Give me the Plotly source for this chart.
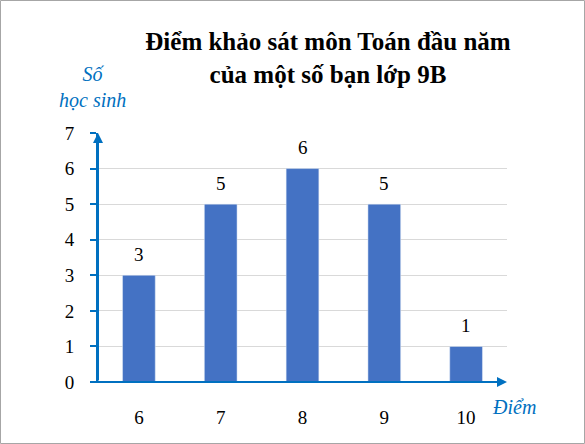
import plotly.graph_objects as go

diem = ['6', '7', '8', '9', '10']
so_hoc_sinh = [3, 5, 6, 5, 1]
y_ticks = [0, 1, 2, 3, 4, 5, 6, 7]

W, H = 585, 444
L, R, T, B = 98, 78, 133, 62
pw, ph = W - L - R, H - T - B

blue_bar = '#4472C4'
blue_axis = '#0070C0'
serif = 'Liberation Serif'

fig = go.Figure()

fig.add_trace(go.Bar(
    x=diem,
    y=so_hoc_sinh,
    marker=dict(color=blue_bar),
    hoverinfo='skip',
))

# nhãn số liệu trên cột (trục category: dùng chỉ số)
for i, v in enumerate(so_hoc_sinh):
    fig.add_annotation(x=i, y=v, text=str(v), showarrow=False, yshift=21,
                       yanchor='middle', font=dict(family=serif, size=19, color='black'))

# trục có mũi tên
fig.add_annotation(xref='x domain', yref='y domain', axref='x domain', ayref='y domain',
                   x=0, y=1, ax=0, ay=0, text='', showarrow=True,
                   arrowhead=2, arrowsize=1, arrowwidth=2, arrowcolor=blue_axis)
fig.add_annotation(xref='x domain', yref='y domain', axref='x domain', ayref='y domain',
                   x=1, y=0, ax=-7 / pw, ay=0, text='', showarrow=True,
                   arrowhead=2, arrowsize=1, arrowwidth=2, arrowcolor=blue_axis)

# nhãn trục
fig.add_annotation(xref='paper', yref='paper', x=-6 / pw, y=1 + 46 / ph,
                   text='<i>Số<br>học sinh</i>', showarrow=False,
                   font=dict(family=serif, size=20, color=blue_axis),
                   xanchor='center', yanchor='middle')
fig.add_annotation(xref='paper', yref='paper', x=1 + 7 / pw, y=-25 / ph,
                   text='<i>Điểm</i>', showarrow=False,
                   font=dict(family=serif, size=20, color=blue_axis),
                   xanchor='center', yanchor='middle')

# khung viền
fig.add_shape(type='rect', xref='paper', yref='paper',
              x0=-(L - 0.5) / pw, x1=1 + (R - 0.5) / pw,
              y0=-(B - 0.5) / ph, y1=1 + (T - 0.5) / ph,
              line=dict(color='#A6A6A6', width=1), layer='below')

fig.update_layout(
    width=W, height=H,
    margin=dict(l=L, r=R, t=T, b=B),
    paper_bgcolor='white', plot_bgcolor='white',
    showlegend=False,
    bargap=0.6,
    title=dict(text='<b>Điểm khảo sát môn Toán đầu năm<br>của một số bạn lớp 9B</b>',
               x=328 / W, xanchor='center', y=1 - 50 / H, yanchor='middle',
               font=dict(family=serif, size=25, color='black')),
    xaxis=dict(
        type='category', range=[-0.5, len(diem) - 0.5],
        showline=False, showgrid=False, zeroline=False,
        ticks='outside', ticklen=18, tickcolor='rgba(0,0,0,0)',
        tickfont=dict(family=serif, size=19, color='black'),
    ),
    yaxis=dict(
        range=[0, 7], tickvals=y_ticks,
        showline=True, linecolor=blue_axis, linewidth=2,
        showgrid=True, gridcolor='#D9D9D9', gridwidth=1.3,
        zeroline=False,
        ticks='outside', ticklen=6, tickcolor=blue_axis, tickwidth=2,
        ticklabelstandoff=12,
        tickfont=dict(family=serif, size=19, color='black'),
    ),
)

fig.write_html("out.html", config={'displayModeBar': False},
               post_script="document.body.style.margin='0';")
